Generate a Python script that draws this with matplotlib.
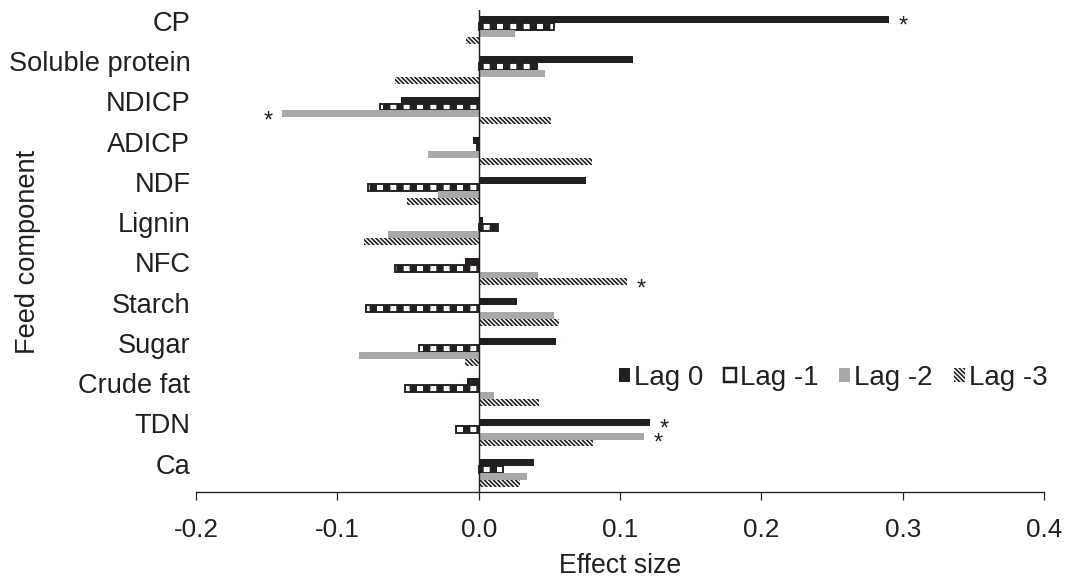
import matplotlib
matplotlib.use("Agg")
import matplotlib.pyplot as plt
from matplotlib.patches import Patch
import numpy as np

plt.rcParams["font.family"] = ["Liberation Sans", "DejaVu Sans"]

# effect sizes per feed component and lag
categories = ["CP", "Soluble protein", "NDICP", "ADICP", "NDF", "Lignin",
              "NFC", "Starch", "Sugar", "Crude fat", "TDN", "Ca"]
lag_names = ["Lag 0", "Lag -1", "Lag -2", "Lag -3"]
lag0 = [0.290, 0.109, -0.055, -0.004, 0.076, 0.003, -0.010, 0.027, 0.055, -0.008, 0.121, 0.039]
lag1 = [0.053, 0.041, -0.070, -0.001, -0.078, 0.014, -0.059, -0.080, -0.042, -0.052, -0.016, 0.017]
lag2 = [0.026, 0.047, -0.139, -0.036, -0.029, -0.064, 0.042, 0.053, -0.085, 0.011, 0.117, 0.034]
lag3 = [-0.009, -0.059, 0.051, 0.080, -0.051, -0.081, 0.105, 0.057, -0.010, 0.043, 0.081, 0.029]
# (component, lag index) marked significant
signif = [("CP", 0), ("NDICP", 2), ("NFC", 3), ("TDN", 0), ("TDN", 2)]

INK = "#231f20"
GREY = "#a7a9ac"
DIAG = "\\" * 6
DPI = 80
W, H = 1068, 579

fig = plt.figure(figsize=(W / DPI, H / DPI), dpi=DPI)
ax = fig.add_axes([196 / W, 1 - 492.3 / H, (1044 - 196) / W, (492.3 - 10) / H])

series = [np.array(lag0), np.array(lag1), np.array(lag2), np.array(lag3)]
pos = np.arange(len(categories))
step = 0.172


def hatch_lw(bars, lw):
    for b in bars:
        if hasattr(b, "set_hatch_linewidth"):
            b.set_hatch_linewidth(lw)


# Lag 0: solid black
ax.barh(pos, series[0], height=step, color=INK, lw=0)
# Lag -1: black bar with white vertical stripes -> checker look
plt.rcParams["hatch.linewidth"] = 5.4
b1 = ax.barh(pos + step, series[1], height=step, facecolor=INK,
             edgecolor="white", lw=0, hatch="|")
hatch_lw(b1, 5.4)
ax.barh(pos + step, series[1], height=step, facecolor="none",
        edgecolor=INK, lw=1.7)
# Lag -2: solid grey
ax.barh(pos + 2 * step, series[2], height=step, color=GREY, lw=0)
# Lag -3: diagonal hatch
plt.rcParams["hatch.linewidth"] = 1.5
b3 = ax.barh(pos + 3 * step, series[3], height=step, facecolor="white",
             edgecolor=INK, lw=0, hatch=DIAG)
hatch_lw(b3, 1.5)

# significance stars just past the bar end
for name, k in signif:
    i = categories.index(name)
    v = series[k][i]
    ax.annotate("*", (v, i + k * step), xytext=(13 if v > 0 else -13, -6),
                textcoords="offset points", ha="center", va="center",
                fontsize=21, color=INK)

ax.axvline(0, color=INK, lw=1.3)
ax.set_xlim(-0.2, 0.4)
ax.set_ylim(11.74, -0.236)
ticks = np.arange(-0.2, 0.41, 0.1)
ax.set_xticks(ticks)
ax.set_xticklabels([f"{t:.1f}" for t in ticks])
ax.set_yticks(pos + 0.03)
ax.set_yticklabels(categories)
ax.tick_params(axis="y", length=0, pad=5, labelsize=24.5, labelcolor=INK)
ax.tick_params(axis="x", direction="out", length=7, width=1.1, color=INK,
               pad=16, labelsize=23.5, labelcolor=INK)
for s in ("top", "right", "left"):
    ax.spines[s].set_visible(False)
ax.spines["bottom"].set_color(INK)
ax.spines["bottom"].set_linewidth(1.2)

fig.text(620 / W, 1 - 566 / H, "Effect size", ha="center", va="center",
         fontsize=24, color=INK)
fig.text(28 / W, 1 - 252 / H, "Feed component", rotation=90, ha="center",
         va="center", fontsize=24.5, color=INK)

handles = [
    Patch(facecolor=INK, edgecolor=INK, lw=0),
    Patch(facecolor="white", edgecolor=INK, lw=2.2),
    Patch(facecolor=GREY, edgecolor=GREY, lw=0),
    Patch(facecolor="white", edgecolor=INK, lw=0, hatch=DIAG),
]
fig.legend(handles, lag_names, loc="center left",
           bbox_to_anchor=(619 / W, 1 - 378 / H), ncol=4, frameon=False,
           fontsize=25, handlelength=0.4, handleheight=0.4,
           handletextpad=0.15, columnspacing=0.75, borderpad=0,
           borderaxespad=0, labelcolor=INK)

fig.savefig("out.png", dpi=DPI)
